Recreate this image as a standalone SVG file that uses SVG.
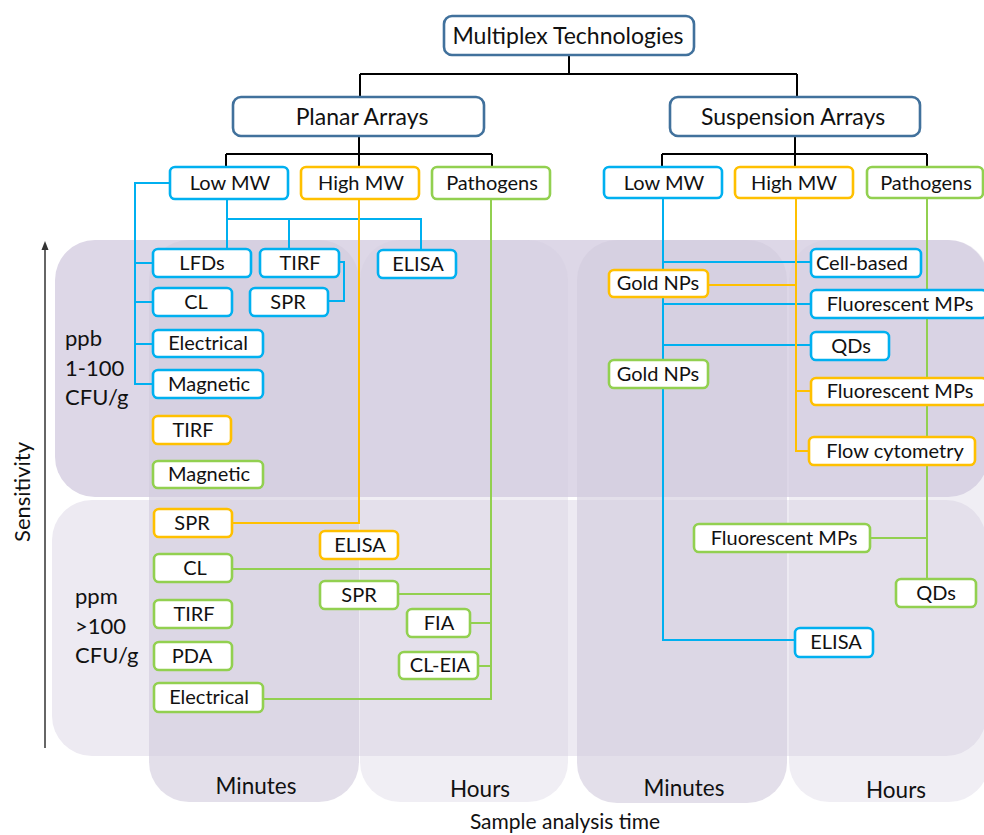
<svg xmlns="http://www.w3.org/2000/svg" width="984" height="835" viewBox="0 0 984 835">
<style>
text{font-family:Lato,"Liberation Sans",sans-serif;fill:#111;}
.lbl{font-size:20px;text-anchor:middle;}
.top{font-size:23px;text-anchor:middle;}
.side{font-size:22px;}
.time{font-size:22.5px;text-anchor:middle;}
.nb{fill:#fff;stroke-width:2.6;}
.blue{stroke:#00b0f0;}
.orange{stroke:#ffc000;}
.green{stroke:#92d050;}
.head{fill:#fff;stroke:#41719c;stroke-width:2.6;}
.c{fill:none;stroke-width:2;}
.k{stroke:#000;}
.lb{stroke:#00b0f0;}
.lo{stroke:#ffc000;}
.lg{stroke:#92d050;}
.min{fill:#d2cbdd;opacity:0.62;}
.hrs{fill:#d2cbdd;opacity:0.33;}
</style>
<rect width="984" height="835" fill="#fff"/>
<g id="background">
<rect x="55" y="240" width="933" height="257" rx="40" fill="#ddd7e7"/>
<rect x="52" y="500" width="934" height="256" rx="40" fill="#edeaf2"/>
<rect class="min" x="149" y="240" width="210" height="562" rx="40"/>
<rect class="hrs" x="360" y="240" width="208" height="562" rx="40"/>
<rect class="min" x="577" y="240" width="210" height="563" rx="40"/>
<rect class="hrs" x="789" y="240" width="200" height="562" rx="40"/>
</g>
<g id="axis">
<line x1="45" y1="248" x2="45" y2="748" stroke="#666" stroke-width="2"/>
<polygon points="45,241 41.5,250 48.5,250" fill="#333"/>
<text class="side" text-anchor="middle" transform="translate(30,492) rotate(-90)">Sensitivity</text>
<text class="side" x="65" y="346">ppb</text>
<text class="side" x="65" y="376">1-100</text>
<text class="side" x="65" y="405">CFU/g</text>
<text class="side" x="75" y="604">ppm</text>
<text class="side" x="75" y="634">&gt;100</text>
<text class="side" x="75" y="663">CFU/g</text>
<text class="time" x="256" y="794">Minutes</text>
<text class="time" x="480" y="797">Hours</text>
<text class="time" x="684" y="796">Minutes</text>
<text class="time" x="896" y="798">Hours</text>
<text text-anchor="middle" x="565" y="829" font-size="21">Sample analysis time</text>
</g>
<g id="connectors">
<path class="c k" d="M569 55V74M360 74H797M360 74V97M797 74V97"/>
<path class="c k" d="M359 136V154M226 154H492M226 154V167M359 154V167M492 154V167"/>
<path class="c k" d="M795 136V154M662 154H927M662 154V167M795 154V167M927 154V167"/>
<path class="c lb" d="M170 183H135V384H153M135 263H153M135 302H153M135 344H153"/>
<path class="c lb" d="M227 199V249M227 219H421V250M289 219V249"/>
<path class="c lb" d="M339 262H344V301H328"/>
<path class="c lb" d="M663 198V640H795M663 262H811M663 304H811M663 345H811"/>
<path class="c lo" d="M359 199V523H232"/>
<path class="c lo" d="M796 198V451H809M708 285H796M796 391H811"/>
<path class="c lg" d="M491 199V699H263M232 569H491M398 594H491M470 623H491M478 666H491"/>
<path class="c lg" d="M927 198V579M870 538H927"/>
</g>
<g id="n-multiplex"><rect class="head" x="444" y="16" width="250" height="39" rx="8"/><text class="top" x="568" y="44">Multiplex Technologies</text></g>
<g id="n-planar"><rect class="head" x="233" y="97" width="251" height="39" rx="8"/><text class="top" x="362" y="125">Planar Arrays</text></g>
<g id="n-suspension"><rect class="head" x="670" y="97" width="250" height="39" rx="8"/><text class="top" x="793" y="125">Suspension Arrays</text></g>
<g id="pl-low"><rect class="nb blue" x="170" y="167" width="118" height="32" rx="5"/><text class="lbl" x="230" y="190">Low MW</text></g>
<g id="pl-high"><rect class="nb orange" x="301" y="167" width="118" height="32" rx="5"/><text class="lbl" x="361" y="190">High MW</text></g>
<g id="pl-path"><rect class="nb green" x="432" y="167" width="118" height="32" rx="5"/><text class="lbl" x="492" y="190">Pathogens</text></g>
<g id="pl-lfds"><rect class="nb blue" x="153" y="249" width="98" height="28" rx="5"/><text class="lbl" x="202" y="270">LFDs</text></g>
<g id="pl-tirf-b"><rect class="nb blue" x="260" y="249" width="79" height="28" rx="5"/><text class="lbl" x="300" y="270">TIRF</text></g>
<g id="pl-elisa-b"><rect class="nb blue" x="378" y="250" width="78" height="28" rx="5"/><text class="lbl" x="418" y="271">ELISA</text></g>
<g id="pl-cl-b"><rect class="nb blue" x="153" y="288" width="79" height="28" rx="5"/><text class="lbl" x="196" y="309">CL</text></g>
<g id="pl-spr-b"><rect class="nb blue" x="250" y="288" width="78" height="28" rx="5"/><text class="lbl" x="288" y="309">SPR</text></g>
<g id="pl-elec-b"><rect class="nb blue" x="153" y="330" width="110" height="27" rx="5"/><text class="lbl" x="208" y="350">Electrical</text></g>
<g id="pl-mag-b"><rect class="nb blue" x="153" y="370" width="110" height="28" rx="5"/><text class="lbl" x="209" y="391">Magnetic</text></g>
<g id="pl-tirf-o"><rect class="nb orange" x="153" y="416" width="78" height="28" rx="5"/><text class="lbl" x="193" y="437">TIRF</text></g>
<g id="pl-mag-g"><rect class="nb green" x="153" y="461" width="110" height="27" rx="5"/><text class="lbl" x="209" y="481">Magnetic</text></g>
<g id="pl-spr-o"><rect class="nb orange" x="154" y="509" width="78" height="28" rx="5"/><text class="lbl" x="192" y="530">SPR</text></g>
<g id="pl-elisa-o"><rect class="nb orange" x="320" y="531" width="78" height="28" rx="5"/><text class="lbl" x="360" y="552">ELISA</text></g>
<g id="pl-cl-g"><rect class="nb green" x="154" y="554" width="78" height="28" rx="5"/><text class="lbl" x="195" y="575">CL</text></g>
<g id="pl-spr-g"><rect class="nb green" x="320" y="581" width="78" height="28" rx="5"/><text class="lbl" x="359" y="602">SPR</text></g>
<g id="pl-tirf-g"><rect class="nb green" x="154" y="600" width="78" height="28" rx="5"/><text class="lbl" x="194" y="621">TIRF</text></g>
<g id="pl-fia"><rect class="nb green" x="407" y="609" width="63" height="28" rx="5"/><text class="lbl" x="439" y="630">FIA</text></g>
<g id="pl-pda"><rect class="nb green" x="154" y="642" width="78" height="28" rx="5"/><text class="lbl" x="192" y="663">PDA</text></g>
<g id="pl-cleia"><rect class="nb green" x="399" y="652" width="79" height="27" rx="5"/><text class="lbl" x="440" y="672">CL-EIA</text></g>
<g id="pl-elec-g"><rect class="nb green" x="154" y="683" width="109" height="29" rx="5"/><text class="lbl" x="209" y="704">Electrical</text></g>
<g id="su-low"><rect class="nb blue" x="604" y="167" width="118" height="31" rx="5"/><text class="lbl" x="664" y="190">Low MW</text></g>
<g id="su-high"><rect class="nb orange" x="735" y="167" width="118" height="31" rx="5"/><text class="lbl" x="794" y="190">High MW</text></g>
<g id="su-path"><rect class="nb green" x="867" y="167" width="116" height="31" rx="5"/><text class="lbl" x="926" y="190">Pathogens</text></g>
<g id="su-gold-o"><rect class="nb orange" x="609" y="270" width="99" height="27" rx="5"/><text class="lbl" x="658" y="290">Gold NPs</text></g>
<g id="su-gold-g"><rect class="nb green" x="609" y="360" width="99" height="28" rx="5"/><text class="lbl" x="658" y="381">Gold NPs</text></g>
<g id="su-cell"><rect class="nb blue" x="811" y="249" width="110" height="28" rx="5"/><text class="lbl" x="862" y="270">Cell-based</text></g>
<g id="su-fmp-b"><rect class="nb blue" x="811" y="290" width="176" height="28" rx="5"/><text class="lbl" x="900" y="311">Fluorescent MPs</text></g>
<g id="su-qds-b"><rect class="nb blue" x="811" y="332" width="78" height="28" rx="5"/><text class="lbl" x="851" y="353">QDs</text></g>
<g id="su-fmp-o"><rect class="nb orange" x="811" y="378" width="176" height="27" rx="5"/><text class="lbl" x="900" y="398">Fluorescent MPs</text></g>
<g id="su-flow"><rect class="nb orange" x="809" y="437" width="166" height="28" rx="5"/><text class="lbl" x="895" y="458">Flow cytometry</text></g>
<g id="su-fmp-g"><rect class="nb green" x="694" y="524" width="176" height="28" rx="5"/><text class="lbl" x="784" y="545">Fluorescent MPs</text></g>
<g id="su-qds-g"><rect class="nb green" x="896" y="579" width="80" height="28" rx="5"/><text class="lbl" x="936" y="600">QDs</text></g>
<g id="su-elisa"><rect class="nb blue" x="795" y="628" width="78" height="29" rx="5"/><text class="lbl" x="836" y="649">ELISA</text></g>
</svg>
